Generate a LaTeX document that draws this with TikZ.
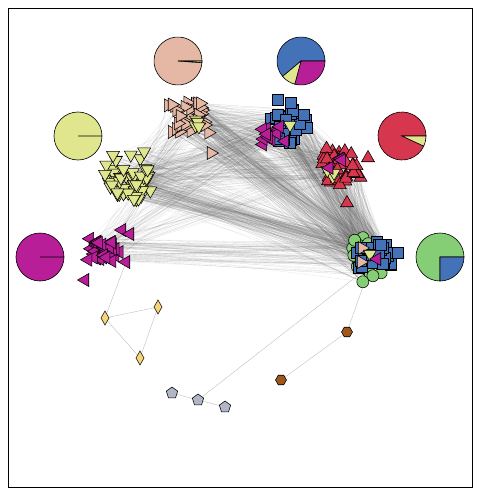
\documentclass[tikz,border=0pt]{standalone}
\usetikzlibrary{shapes.geometric,backgrounds}

\definecolor{salmon}{RGB}{228,184,164}
\definecolor{azul}{RGB}{68,114,184}
\definecolor{lima}{RGB}{224,230,142}
\definecolor{rojo}{RGB}{214,55,78}
\definecolor{magen}{RGB}{184,30,152}
\definecolor{verde}{RGB}{134,206,118}
\definecolor{marron}{RGB}{160,86,26}
\definecolor{gris}{RGB}{176,182,196}
\definecolor{oro}{RGB}{248,212,122}

\tikzset{
  mk/.style={draw=black,line width=0.55pt,inner sep=0pt,outer sep=0pt},
  triup/.style={mk,regular polygon,regular polygon sides=3,minimum size=15pt,fill=#1},
  tridown/.style={triup=#1,shape border rotate=180},
  trileft/.style={triup=#1,shape border rotate=90},
  triright/.style={triup=#1,shape border rotate=-90},
  sq/.style={mk,rectangle,minimum size=11pt,fill=#1},
  dot/.style={mk,circle,minimum size=12pt,fill=#1},
  rombo/.style={mk,diamond,minimum width=8pt,minimum height=14pt,fill=oro},
  hexa/.style={mk,regular polygon,regular polygon sides=6,minimum size=11pt,fill=marron},
  penta/.style={mk,regular polygon,regular polygon sides=5,minimum size=12pt,fill=gris},
  enlace/.style={draw=gray!80!black,opacity=0.16,line width=0.3pt},
  suelto/.style={draw=gray!60,line width=0.3pt}
}

% grupo: nombre, cantidad, cx, cy, dx, dy, estilo
\newcommand\grupo[7]{%
  \foreach \i in {1,...,#2}{
    \pgfmathsetmacro\px{#3+#5*(0.8*rand+0.2*rand)}
    \pgfmathsetmacro\py{#4+#6*(0.8*rand+0.2*rand)}
    \node[#7] (#1\i) at (\px,\py) {};
  }}
% enlaces: origen, n, destino, m, cuantos
\newcommand\enlaces[5]{%
  \foreach \k in {1,...,#5}{
    \pgfmathrandominteger\ia{1}{#2}
    \pgfmathrandominteger\ib{1}{#4}
    \draw[enlace] (#1\ia.center) -- (#3\ib.center);
  }}
% tajada: cx, cy, desde, hasta, color
\newcommand\tajada[5]{%
  \filldraw[fill=#5,draw=black,line width=0.6pt] (#1,#2) -- +(#3:24)
    arc[start angle=#3,end angle=#4,radius=24] -- cycle;}

\begin{document}
\begin{tikzpicture}[x=1pt,y=-1pt]
  \pgfmathsetseed{11}
  \useasboundingbox (0,0) rectangle (480,495);
  \draw[line width=0.8pt] (8,8) rectangle (472,487);

  % pasteles
  \tajada{178}{61}{4}{360}{salmon}
  \tajada{178}{61}{0}{4}{lima}
  \tajada{301}{61}{140}{360}{azul}
  \tajada{301}{61}{0}{105}{magen}
  \tajada{301}{61}{105}{140}{lima}
  \tajada{78}{136}{0}{360}{lima}
  \tajada{402}{136}{25}{360}{rojo}
  \tajada{402}{136}{0}{25}{lima}
  \tajada{40}{257}{0}{360}{magen}
  \tajada{440}{257}{90}{360}{verde}
  \tajada{440}{257}{0}{90}{azul}

  % grupos
  \grupo{ye}{55}{128}{176}{27}{27}{tridown=lima}
  \grupo{mg}{30}{104}{251}{17}{14}{trileft=magen}
  \node[trileft=magen] (mgA) at (122,230) {};
  \node[trileft=magen] (mgB) at (130,234) {};
  \node[trileft=magen] (mgC) at (126,262) {};
  \node[trileft=magen] (mgD) at (85,280) {};
  \grupo{sa}{35}{188}{117}{22}{19}{triright=salmon}
  \grupo{sy}{4}{198}{124}{6}{5}{tridown=lima}
  \node[triright=salmon] (saA) at (211,153) {};
  \grupo{bl}{30}{288}{125}{20}{21}{sq=azul}
  \node[sq=azul] (blA) at (278,100) {};
  \node[sq=azul] (blB) at (291,103) {};
  \node[tridown=lima] (byA) at (290,125) {};
  \grupo{bm}{12}{272}{133}{15}{14}{trileft=magen}
  \grupo{rd}{40}{341}{170}{21}{25}{triup=rojo}
  \node[triup=rojo] (rdA) at (368,158) {};
  \node[triup=rojo] (rdB) at (347,203) {};
  \grupo{ry}{3}{330}{172}{6}{8}{tridown=lima}
  \grupo{rm}{4}{336}{163}{10}{8}{trileft=magen}
  \grupo{gr}{28}{367}{259}{23}{24}{dot=verde}
  \grupo{gb}{25}{374}{255}{21}{17}{sq=azul}
  \node[triright=salmon] (gsA) at (362,248) {};
  \node[triright=salmon] (gsB) at (361,262) {};
  \node[tridown=lima] (gyA) at (370,254) {};
  \node[trileft=magen] (gmA) at (377,259) {};
  \node[sq=azul] (gbA) at (398,253) {};

  % nodos sueltos
  \node[rombo] (d1) at (158,307) {};
  \node[rombo] (d2) at (105,318) {};
  \node[rombo] (d3) at (140,358) {};
  \node[hexa] (h1) at (347,332) {};
  \node[hexa] (h2) at (281,380) {};
  \node[penta] (p1) at (172,393) {};
  \node[penta] (p2) at (198,400) {};
  \node[penta] (p3) at (225,407) {};

  \begin{pgfonlayer}{background}
    \enlaces{sa}{35}{gr}{28}{100}
    \enlaces{sa}{35}{gb}{25}{90}
    \enlaces{bl}{30}{gr}{28}{100}
    \enlaces{bl}{30}{gb}{25}{90}
    \enlaces{rd}{40}{gr}{28}{80}
    \enlaces{rd}{40}{gb}{25}{80}
    \enlaces{ye}{55}{gr}{28}{100}
    \enlaces{ye}{55}{gb}{25}{90}
    \enlaces{mg}{30}{gr}{28}{40}
    \enlaces{mg}{30}{gb}{25}{35}
    \enlaces{sa}{35}{bl}{30}{80}
    \enlaces{sa}{35}{rd}{40}{70}
    \enlaces{ye}{55}{bl}{30}{80}
    \enlaces{ye}{55}{rd}{40}{80}
    \enlaces{ye}{55}{sa}{35}{40}
    \enlaces{mg}{30}{sa}{35}{25}
    \enlaces{mg}{30}{bl}{30}{25}
    \enlaces{mg}{30}{rd}{40}{20}
    \enlaces{bl}{30}{rd}{40}{50}
    \enlaces{bm}{12}{gr}{28}{25}
    \enlaces{rm}{4}{gb}{25}{12}
    \draw[suelto] (d1) -- (d3);
    \draw[suelto] (d2) -- (d3);
    \draw[suelto] (d1) -- (d2);
    \draw[suelto] (d2) -- (mgC);
    \draw[suelto] (h1) -- (h2);
    \draw[suelto] (h1) -- (gr3);
    \draw[suelto] (p1) -- (p2);
    \draw[suelto] (p2) -- (p3);
    \draw[suelto] (p2) -- (gr5);
  \end{pgfonlayer}
\end{tikzpicture}
\end{document}
